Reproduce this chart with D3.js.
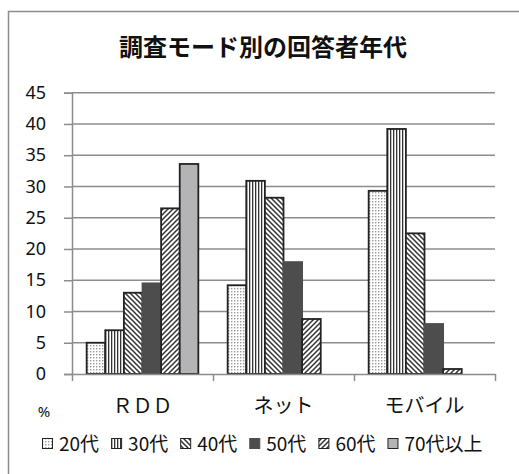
<!DOCTYPE html>
<html>
<head>
<meta charset="utf-8">
<script src="https://cdn.jsdelivr.net/npm/d3@7"></script>
<style>
	body { margin: 0; background: #fff; }
	text { font-family: 'Noto Sans CJK JP', 'Noto Sans', sans-serif; fill: #111; }
</style>
</head>
<body>
<div id="container"></div>
<script>
// data
const categories = ['ＲＤＤ', 'ネット', 'モバイル'];
const seriesNames = ['20代', '30代', '40代', '50代', '60代', '70代以上'];
const rdd = [5.0, 7.0, 13.0, 14.5, 26.5, 33.6];
const net = [14.2, 30.9, 28.2, 17.9, 8.8, 0];
const mobile = [29.3, 39.2, 22.5, 8.0, 0.8, 0];
const yTicks = [0, 5, 10, 15, 20, 25, 30, 35, 40, 45];
const title = '調査モード別の回答者年代';
const unitLabel = '%';

window.onload = function () {
	'use strict';
	let options = {
		width: 519,
		height: 474,
		left: 72,
		right: 495,
		top: 92.7,
		bottom: 374,
	};
	let values = [rdd, net, mobile];

	let svg = d3.select('#container')
		.append('svg')
		.attr('width', options.width)
		.attr('height', options.height);

	// fill patterns for the series
	let defs = svg.append('defs');
	function pattern(id, size, draw) {
		let p = defs.append('pattern')
			.attr('id', id)
			.attr('patternUnits', 'userSpaceOnUse')
			.attr('width', size)
			.attr('height', size);
		p.append('rect').attr('width', size).attr('height', size).attr('fill', '#fff');
		draw(p);
	}
	pattern('p20', 3, (p) => {
		p.append('rect').attr('x', 0).attr('y', 0).attr('width', 1.4).attr('height', 1.4).attr('fill', '#999');
	});
	pattern('p30', 3, (p) => {
		p.append('rect').attr('x', 0).attr('y', 0).attr('width', 1.3).attr('height', 3).attr('fill', '#333');
	});
	pattern('p40', 5, (p) => {
		p.append('path').attr('d', 'M-1,-1 L6,6 M-1,4 L1,6 M4,-1 L6,1')
			.attr('stroke', '#333').attr('stroke-width', 1.5);
	});
	pattern('p60', 5, (p) => {
		p.append('path').attr('d', 'M-1,6 L6,-1 M-1,1 L1,-1 M4,6 L6,4')
			.attr('stroke', '#333').attr('stroke-width', 1.5);
	});
	let fills = ['url(#p20)', 'url(#p30)', 'url(#p40)', '#4d4d4d', 'url(#p60)', '#b4b4b6'];
	let strokes = ['#222', '#222', '#222', '#4d4d4d', '#222', '#222'];

	// outer frame
	svg.append('rect')
		.attr('x', 8.5).attr('y', 11.5)
		.attr('width', 520).attr('height', 480)
		.attr('fill', 'none')
		.attr('stroke', '#8c8c8c')
		.attr('stroke-width', 1.5);

	svg.append('text')
		.attr('x', 263)
		.attr('y', 56)
		.attr('text-anchor', 'middle')
		.attr('font-size', 24)
		.attr('font-weight', 'bold')
		.text(title);

	let y = d3.scaleLinear().domain([0, 45]).range([options.bottom, options.top]);
	let x0 = d3.scaleBand().domain(categories).range([options.left, options.right]);
	let gap = x0.bandwidth() * 0.104;
	let x1 = d3.scaleBand().domain(seriesNames).range([gap, x0.bandwidth() - gap]);

	// gridlines
	svg.append('g')
		.selectAll('line')
		.data(yTicks.filter((d) => d > 0))
		.enter()
		.append('line')
		.attr('x1', options.left)
		.attr('x2', options.right)
		.attr('y1', (d) => y(d))
		.attr('y2', (d) => y(d))
		.attr('stroke', '#8c8c8c')
		.attr('stroke-width', 1.5);

	// y axis
	let yAxis = svg.append('g')
		.attr('transform', 'translate(' + options.left + ',0)')
		.call(d3.axisLeft(y).tickValues(yTicks).tickSize(8).tickPadding(18));
	yAxis.selectAll('path, line').attr('stroke', '#8c8c8c').attr('stroke-width', 1.5);
	yAxis.selectAll('text')
		.attr('font-size', 18)
		.attr('fill', '#111')
		.style('font-family', "'Noto Sans', sans-serif");

	// bars
	let groups = svg.append('g')
		.selectAll('g')
		.data(categories)
		.enter()
		.append('g')
		.attr('transform', (d) => 'translate(' + x0(d) + ',0)');

	groups.selectAll('rect')
		.data((d, i) => values[i].map((v, j) => ({ name: seriesNames[j], value: v, j: j })))
		.enter()
		.filter((d) => d.value > 0)
		.append('rect')
		.attr('x', (d) => x1(d.name))
		.attr('width', x1.bandwidth())
		.attr('y', (d) => y(d.value))
		.attr('height', (d) => y(0) - y(d.value))
		.attr('fill', (d) => fills[d.j])
		.attr('stroke', (d) => strokes[d.j])
		.attr('stroke-width', 1.8);

	// x axis line with boundary ticks
	let xb = d3.scaleLinear().domain([0, categories.length]).range([options.left, options.right]);
	let xAxis = svg.append('g')
		.attr('transform', 'translate(0,' + options.bottom + ')')
		.call(d3.axisBottom(xb).tickValues(d3.range(categories.length + 1)).tickSize(7).tickSizeOuter(0).tickFormat(''));
	xAxis.selectAll('path, line').attr('stroke', '#8c8c8c').attr('stroke-width', 1.5);

	svg.append('g')
		.selectAll('text')
		.data(categories)
		.enter()
		.append('text')
		.attr('x', (d) => x0(d) + x0.bandwidth() / 2)
		.attr('y', 413)
		.attr('text-anchor', 'middle')
		.attr('font-size', 20)
		.text((d) => d);

	svg.append('text')
		.attr('x', 44)
		.attr('y', 417)
		.attr('text-anchor', 'middle')
		.attr('font-size', 15)
		.style('font-family', "'Noto Sans', sans-serif")
		.text(unitLabel);

	// legend
	let legend = svg.append('g');
	let lx = 42;
	seriesNames.forEach((name, j) => {
		legend.append('rect')
			.attr('x', lx + 0.5).attr('y', 438.5)
			.attr('width', 10).attr('height', 10)
			.attr('fill', fills[j])
			.attr('stroke', strokes[j])
			.attr('stroke-width', 1);
		let t = legend.append('text')
			.attr('x', lx + 17)
			.attr('y', 451)
			.attr('font-size', 19)
			.text(name);
		lx += 17 + t.node().getComputedTextLength() + 12;
	});
};
</script>
</body>
</html>
